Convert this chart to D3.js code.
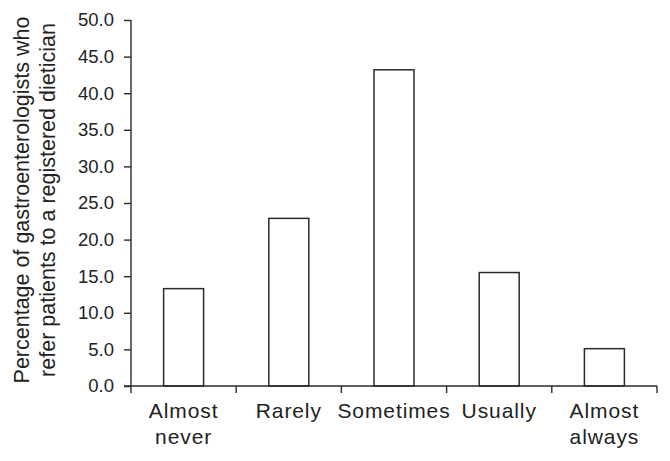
<!DOCTYPE html>
<html>
<head>
<meta charset="utf-8">
<script src="https://cdn.jsdelivr.net/npm/d3@7"></script>
<style>
  html, body { margin: 0; padding: 0; background: #fff; }
  svg { display: block; }
  text { font-family: "Liberation Sans", Arial, Helvetica, sans-serif; fill: #222; }
</style>
</head>
<body>
<svg id="chart" width="670" height="461"></svg>
<script>
const categories = [["Almost", "never"], ["Rarely"], ["Sometimes"], ["Usually"], ["Almost", "always"]];
const categoryKeys = ["Almost never", "Rarely", "Sometimes", "Usually", "Almost always"];
const values = [13.3, 22.9, 43.2, 15.5, 5.1];
const yTicks = [0, 5, 10, 15, 20, 25, 30, 35, 40, 45, 50];
const yLabelLines = ["Percentage of gastroenterologists who", "refer patients to a registered dietician"];

(function () {
const svg = d3.select("#chart");
const plotLeft = 131, plotRight = 657, plotTop = 20, plotBottom = 386;
const ink = "#2a2a2a";

const y = d3.scaleLinear().domain([0, 50]).range([plotBottom, plotTop]);
const x = d3.scaleBand().domain(categoryKeys).range([plotLeft, plotRight]).paddingInner(0.62).paddingOuter(0.31);
const edge = d3.scaleLinear().domain([0, categoryKeys.length]).range([plotLeft, plotRight]);

// Bars
svg.append("g").selectAll("rect").data(values).join("rect")
  .attr("x", (d, i) => x(categoryKeys[i]))
  .attr("y", d => y(d))
  .attr("width", x.bandwidth())
  .attr("height", d => y(0) - y(d))
  .attr("fill", "#fff")
  .attr("stroke", ink)
  .attr("stroke-width", 1.5);

// Y axis
const yAxis = svg.append("g").attr("transform", `translate(${plotLeft},0)`)
  .call(d3.axisLeft(y).tickValues(yTicks).tickFormat(d3.format(".1f")).tickSize(7).tickPadding(10));
yAxis.select(".domain").remove();
yAxis.append("line").attr("x1", 0).attr("x2", 0).attr("y1", plotTop).attr("y2", plotBottom)
  .attr("stroke", ink).attr("stroke-width", 1.4);
yAxis.selectAll(".tick line").attr("stroke", ink).attr("stroke-width", 1.4);
yAxis.selectAll(".tick text").attr("font-size", 18.5).style("fill", "#222");

// X axis
const xg = svg.append("g");
xg.append("line").attr("x1", plotLeft - 7).attr("x2", plotRight).attr("y1", plotBottom).attr("y2", plotBottom)
  .attr("stroke", ink).attr("stroke-width", 1.4);
xg.selectAll("line.tk").data(d3.range(categoryKeys.length + 1)).join("line")
  .attr("class", "tk")
  .attr("x1", d => edge(d)).attr("x2", d => edge(d))
  .attr("y1", plotBottom).attr("y2", plotBottom + 7)
  .attr("stroke", ink).attr("stroke-width", 1.4);
const lbl = xg.selectAll("text").data(categories).join("text")
  .attr("text-anchor", "middle")
  .attr("font-size", 21)
  .style("letter-spacing", "0.9px")
  .attr("transform", (d, i) => `translate(${x(categoryKeys[i]) + x.bandwidth() / 2},417.5)`);
lbl.selectAll("tspan").data(d => d).join("tspan")
  .attr("x", 0).attr("dy", (d, i) => i === 0 ? 0 : 26.5).text(d => d);

// Y label
const yl = svg.append("text")
  .attr("text-anchor", "middle")
  .attr("font-size", 21.5)
  .attr("transform", "translate(28.5,200) rotate(-90)");
yl.selectAll("tspan").data(yLabelLines).join("tspan")
  .attr("x", 0).attr("dy", (d, i) => i === 0 ? 0 : 26.5).text(d => d);
})();
</script>
</body>
</html>
